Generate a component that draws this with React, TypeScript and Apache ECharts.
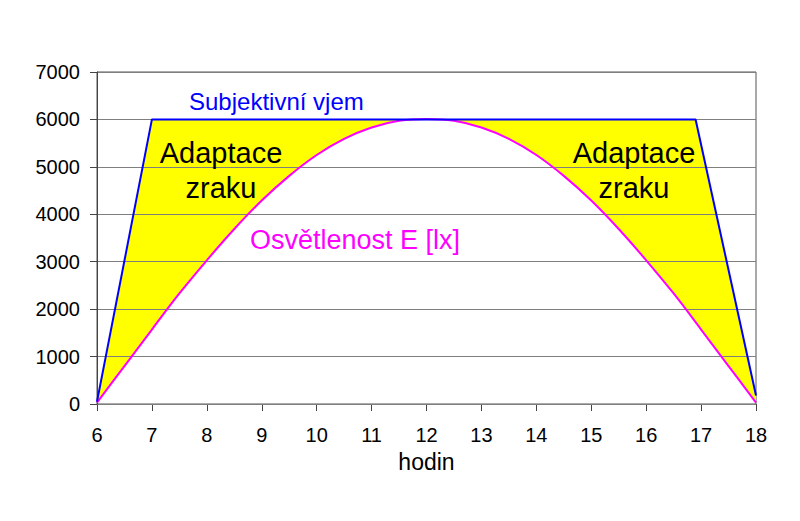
import React, { useEffect, useRef } from 'react'
import * as echarts from 'echarts'

// hours on the x axis
const xTicks = [6, 7, 8, 9, 10, 11, 12, 13, 14, 15, 16, 17, 18]

// "Subjektivní vjem" - the blue trapezoid
const subjHours = [6, 7, 16.9, 18]
const subjValues = [50, 6000, 6000, 180]

// "Osvětlenost E [lx]" - the magenta curve, read at half-hour steps
const illumHours = [6, 6.5, 7, 7.5, 8, 8.5, 9, 9.5, 10, 10.5, 11, 11.5, 12, 12.5, 13, 13.5, 14, 14.5, 15, 15.5, 16, 16.5, 17, 17.5, 18]
const illumValues = [30, 800, 1570, 2330, 3030, 3690, 4290, 4810, 5250, 5590, 5830, 5970, 6010, 5970, 5830, 5590, 5250, 4810, 4290, 3690, 3030, 2330, 1570, 800, 30]

const FONT = '"Liberation Sans", Arial, sans-serif'

const App = () => {
  const chartRef = useRef<HTMLDivElement>(null)

  useEffect(() => {
    if (!chartRef.current) return
    const chart = echarts.init(chartRef.current, undefined, { renderer: 'svg' })

    const subjData = subjHours.map((h, i) => [h, subjValues[i]])
    const illumData = illumHours.map((h, i) => [h, illumValues[i]])

    // yellow band between the two lines
    const fillPoly = (params: any, api: any) => {
      const upper = subjData.map((p) => api.coord(p))
      const lower = illumData.slice().reverse().map((p) => api.coord(p))
      return {
        type: 'polygon',
        shape: { points: upper.concat(lower) },
        style: { fill: '#ffff00' },
      }
    }

    chart.setOption({
      animation: false,
      backgroundColor: '#ffffff',
      grid: {
        left: 97,
        right: 44,
        top: 72,
        bottom: 117,
        show: true,
        borderColor: '#555555',
        borderWidth: 1,
        backgroundColor: 'transparent',
      },
      xAxis: {
        type: 'value',
        min: xTicks[0],
        max: xTicks[xTicks.length - 1],
        interval: 1,
        name: 'hodin',
        nameLocation: 'middle',
        nameGap: 46,
        nameTextStyle: { fontFamily: FONT, fontSize: 23, color: '#000' },
        axisLine: { show: true, lineStyle: { color: '#444', width: 1 } },
        axisTick: { show: true, length: 7, lineStyle: { color: '#444' } },
        axisLabel: { fontFamily: FONT, fontSize: 20, color: '#000', margin: 21 },
        splitLine: { show: false },
      },
      yAxis: {
        type: 'value',
        min: 0,
        max: 7000,
        interval: 1000,
        z: 3,
        axisLine: { show: true, lineStyle: { color: '#444', width: 1 } },
        axisTick: { show: true, length: 7, lineStyle: { color: '#444' } },
        axisLabel: { fontFamily: FONT, fontSize: 20, color: '#000', margin: 17, formatter: (v: number) => String(v) },
        splitLine: { show: true, lineStyle: { color: '#7f7f7f', width: 1 } },
      },
      graphic: [
        { type: 'text', left: 189, top: 89, z: 10, style: { text: 'Subjektivní vjem', fill: '#0000ff', font: `24px ${FONT}` } },
        { type: 'text', x: 221, y: 170, z: 10, style: { text: 'Adaptace\nzraku', fill: '#000', font: `29px ${FONT}`, align: 'center', verticalAlign: 'middle', lineHeight: 35 } },
        { type: 'text', x: 634, y: 170, z: 10, style: { text: 'Adaptace\nzraku', fill: '#000', font: `29px ${FONT}`, align: 'center', verticalAlign: 'middle', lineHeight: 35 } },
        { type: 'text', left: 250, top: 226, z: 10, style: { text: 'Osvětlenost E [lx]', fill: '#ff00ff', font: `27px ${FONT}` } },
      ],
      series: [
        {
          type: 'custom',
          name: 'fill',
          renderItem: fillPoly,
          data: [[6, 0]],
          z: 1,
          silent: true,
        },
        {
          type: 'line',
          name: 'Osvětlenost E [lx]',
          data: illumData,
          smooth: 0.4,
          showSymbol: false,
          lineStyle: { color: '#ff00ff', width: 2 },
          z: 5,
        },
        {
          type: 'line',
          name: 'Subjektivní vjem',
          data: subjData,
          showSymbol: false,
          lineStyle: { color: '#0000ff', width: 2 },
          z: 6,
        },
      ],
    })

    return () => {
      chart.dispose()
    }
  }, [])

  return <div ref={chartRef} style={{ width: 800, height: 521, margin: -8 }} />
}

export default App
